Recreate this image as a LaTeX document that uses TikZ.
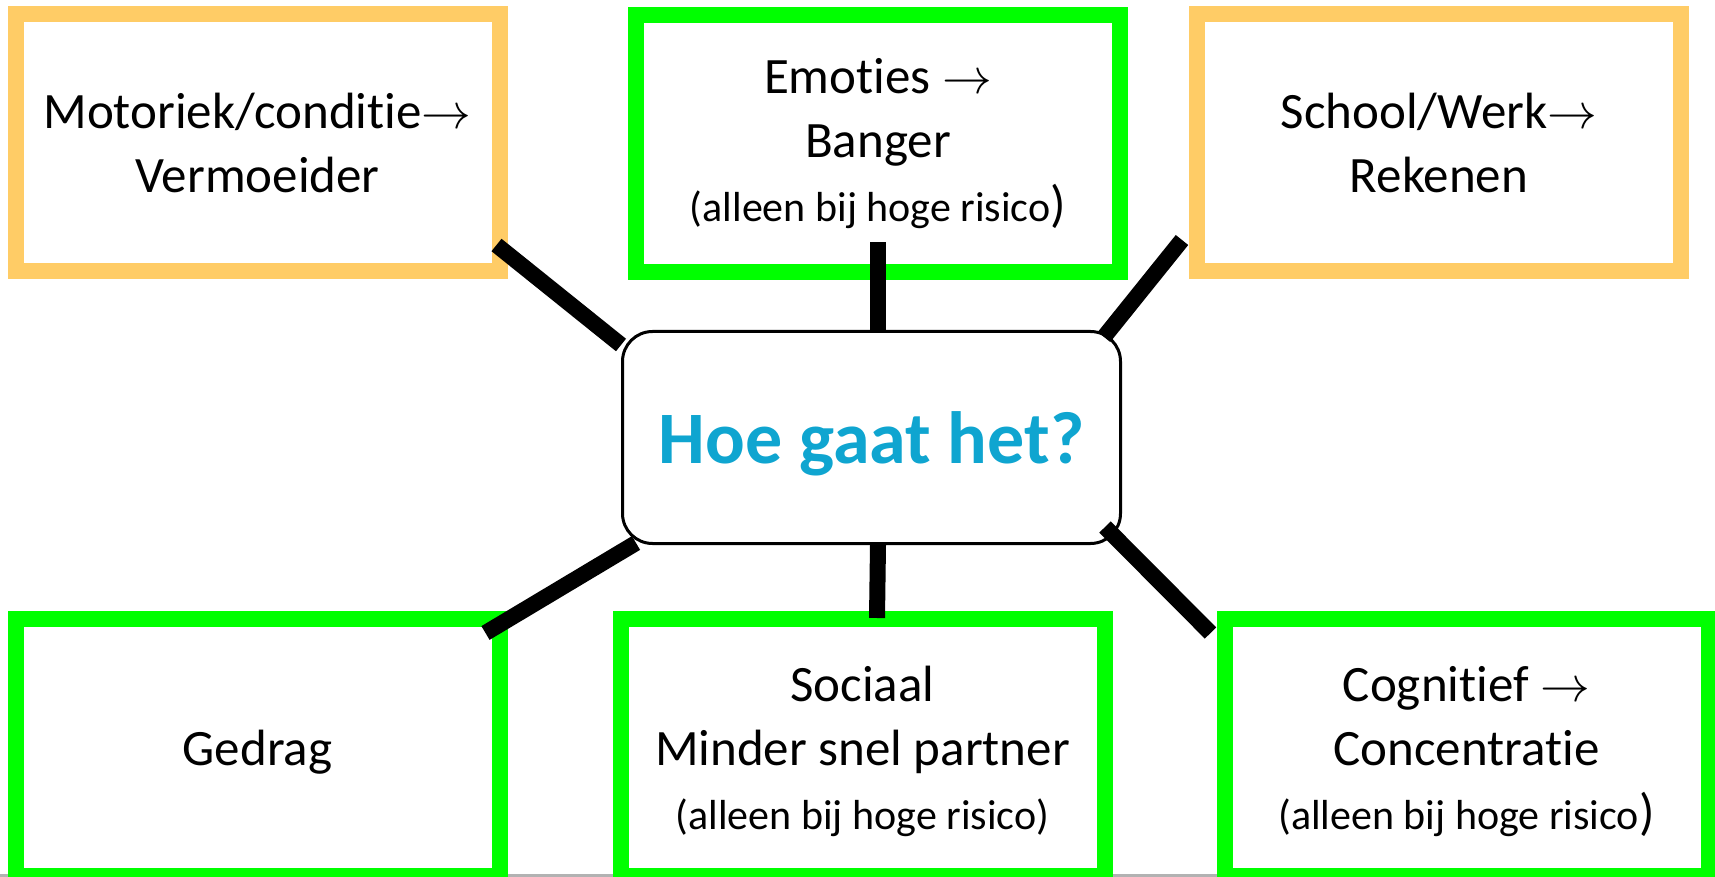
\documentclass[tikz,border=0pt]{standalone}
\usepackage{fontspec}
\setmainfont{Carlito}[Ligatures=NoCommon]
\definecolor{kaderoranje}{HTML}{FFCC66}
\definecolor{kadergroen}{HTML}{00FF00}
\definecolor{titelblauw}{HTML}{0FA5D0}
\newcommand\klein{\fontsize{21}{32}\selectfont}
\tikzset{
  kader/.style={draw, line width=8pt, minimum width=242pt, minimum height=128.5pt,
    inner sep=0pt, align=center, font=\fontsize{25.5}{32}\selectfont},
  onder/.style={kader, draw=kadergroen, text depth=0pt},
  link/.style={line width=8pt, line cap=butt}
}
\begin{document}
\begin{tikzpicture}[x=0.5pt,y=-0.5pt]
    \useasboundingbox (0,0) rectangle (1715,877);
    \draw[gray!60, line width=1.5pt] (0,875.5) -- (1715,875.5);
    \node[kader, draw=kaderoranje] (motor) at (257.5,142.5) {Motoriek/conditie$\rightarrow$\\Vermoeider};
    \node[kader, draw=kadergroen] (emo) at (878,144) {Emoties $\rightarrow$\\Banger\\{\klein (alleen bij hoge risico})};
    \node[kader, draw=kaderoranje] (school) at (1439,142.5) {School/Werk$\rightarrow$\\Rekenen};
    \node[onder] (gedrag) at (257.5,747.5) {Gedrag};
    \node[onder] (soc) at (862.5,747.5) {Sociaal\\Minder snel partner\\{\klein (alleen bij hoge risico)}};
    \node[onder] (cog) at (1466.5,747.5) {Cognitief $\rightarrow$\\Concentratie\\{\klein (alleen bij hoge risico})};
    \node[draw, line width=1.5pt, rounded corners=15pt, minimum width=249pt, minimum height=106pt,
      fill=white, text=titelblauw, text depth=0pt, font=\bfseries\fontsize{37}{44}\selectfont] (hoe) at (871.5,437.5) {Hoe gaat het?};
    % verbindingen
    \draw[link] ([shift={(-11,-34)}]motor.south east) -- ([shift={(0,15)}]hoe.north west);
    \draw[link] ([shift={(0,-38)}]emo.south) -- (emo.south |- hoe.north);
    \draw[link] ([shift={(-7,-39)}]school.south west) -- ([shift={(-18,7)}]hoe.north east);
    \draw[link] ([shift={(15,-2)}]hoe.south west) -- ([shift={(-22,22)}]gedrag.north east);
    \draw[link] (emo.south |- hoe.south) -- ([shift={(14.5,7)}]soc.north);
    \draw[link] ([shift={(-17,-18)}]hoe.south east) -- ([shift={(-6,22)}]cog.north west);
\end{tikzpicture}
\end{document}
